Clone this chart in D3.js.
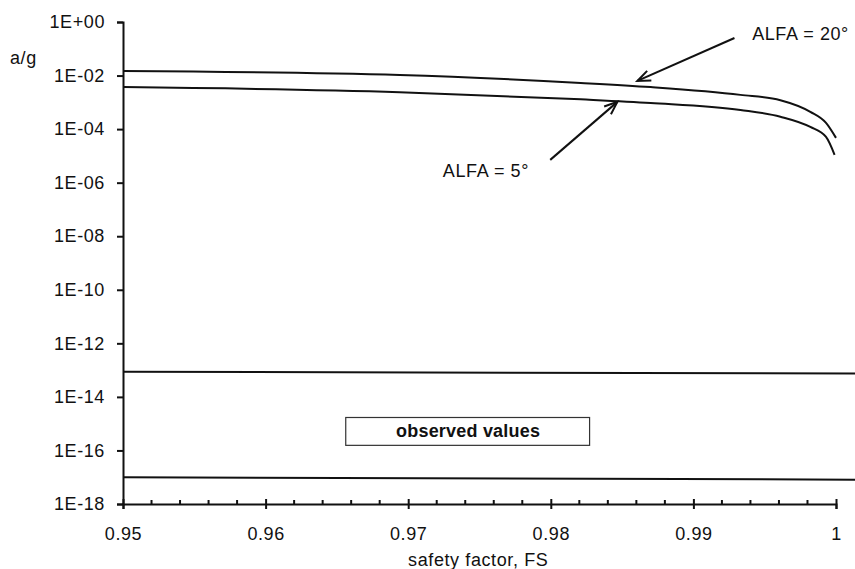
<!DOCTYPE html>
<html>
<head>
<meta charset="utf-8">
<script src="https://cdn.jsdelivr.net/npm/d3@7"></script>
<style>
  body { margin: 0; background: #fff; }
  svg { display: block; font-family: "Liberation Sans", Arial, sans-serif; }
</style>
</head>
<body>
<svg id="chart" width="855" height="569"></svg>
<script>
// safety factor values (x) and a/g (y)
const fsAlfa20 = [0.95, 0.9694, 0.9821, 0.987, 0.9933, 0.9961, 0.9982, 0.9993, 1.0];
const agAlfa20 = [1.48e-2, 1.05e-2, 5.3e-3, 3.7e-3, 1.9e-3, 1.2e-3, 4.4e-4, 1.7e-4, 4.7e-5];
const fsAlfa5 = [0.95, 0.9694, 0.9821, 0.987, 0.9933, 0.9961, 0.9982, 0.9993, 0.9999];
const agAlfa5 = [3.7e-3, 2.4e-3, 1.3e-3, 9.5e-4, 5.2e-4, 2.9e-4, 1.2e-4, 5.1e-5, 1.1e-5];
const fsObserved = [0.95, 1.0015];
const agObservedHigh = [8.7e-14, 7.4e-14];
const agObservedLow = [1.0e-17, 8.1e-18];
const yTicks = [1, 1e-2, 1e-4, 1e-6, 1e-8, 1e-10, 1e-12, 1e-14, 1e-16, 1e-18];
const yTickLabels = ['1E+00', '1E-02', '1E-04', '1E-06', '1E-08', '1E-10', '1E-12', '1E-14', '1E-16', '1E-18'];
const xTicks = [0.95, 0.96, 0.97, 0.98, 0.99, 1];
const xTickLabels = ['0.95', '0.96', '0.97', '0.98', '0.99', '1'];
const xMinorTicks = d3.range(0, 26).map((i) => 0.95 + i * 0.002);

const fontSize = 18;
const spacing = '0.6px';

const svg = d3.select('#chart');
const x = d3.scaleLinear().domain([0.95, 1]).range([123, 836]);
const y = d3.scaleLog().domain([1, 1e-18]).range([22, 504]);

const line = d3.line()
    .x((d) => x(d[0]))
    .y((d) => y(d[1]))
    .curve(d3.curveMonotoneX);

const series = [
    d3.zip(fsAlfa20, agAlfa20),
    d3.zip(fsAlfa5, agAlfa5),
    d3.zip(fsObserved, agObservedHigh),
    d3.zip(fsObserved, agObservedLow)
];

svg.append('g')
    .selectAll('path')
    .data(series)
    .enter()
    .append('path')
    .attr('d', line)
    .attr('fill', 'none')
    .attr('stroke', '#111')
    .attr('stroke-width', 2);

const styleText = (sel) => sel
    .attr('font-size', fontSize)
    .attr('letter-spacing', spacing)
    .attr('fill', '#111')
    .attr('font-family', '"Liberation Sans", Arial, sans-serif');

// y axis
const axisY = d3.axisLeft(y)
    .tickValues(yTicks)
    .tickFormat((d, i) => yTickLabels[i])
    .tickSize(6)
    .tickPadding(12);

const gy = svg.append('g')
    .attr('transform', `translate(${x(0.95)},0)`)
    .call(axisY);
gy.select('.domain').attr('stroke', '#111').attr('stroke-width', 2);
gy.selectAll('.tick line').attr('stroke', '#111').attr('stroke-width', 2);
gy.selectAll('.tick text').call(styleText);

// x axis
const axisX = d3.axisBottom(x)
    .tickValues(xTicks)
    .tickFormat((d, i) => xTickLabels[i])
    .tickSize(5)
    .tickPadding(18);

const gx = svg.append('g')
    .attr('transform', `translate(0,${y(1e-18)})`)
    .call(axisX);
gx.select('.domain').attr('stroke', '#111').attr('stroke-width', 2);
gx.selectAll('.tick line')
    .attr('y1', -5)
    .attr('stroke', '#111')
    .attr('stroke-width', 2);
gx.selectAll('.tick text').call(styleText);

gx.selectAll('.minor')
    .data(xMinorTicks.filter((d) => !xTicks.some((t) => Math.abs(t - d) < 1e-6)))
    .enter()
    .append('line')
    .attr('class', 'minor')
    .attr('x1', (d) => x(d))
    .attr('x2', (d) => x(d))
    .attr('y1', 0)
    .attr('y2', -4)
    .attr('stroke', '#111')
    .attr('stroke-width', 2);

// axis titles
svg.append('text')
    .attr('x', 10)
    .attr('y', 64)
    .call(styleText)
    .text('a/g');

svg.append('text')
    .attr('x', x(0.97491))
    .attr('y', 566)
    .attr('text-anchor', 'middle')
    .call(styleText)
    .text('safety factor, FS');

// observed values box
const box = svg.append('g');
box.append('rect')
    .attr('x', x(0.96562))
    .attr('y', y(1.7e-15))
    .attr('width', x(0.98272) - x(0.96562))
    .attr('height', y(1.55e-16) - y(1.7e-15))
    .attr('fill', '#fff')
    .attr('stroke', '#333')
    .attr('stroke-width', 1.2);
box.append('text')
    .attr('x', x(0.9742))
    .attr('y', y(1.7e-15) + 20)
    .attr('text-anchor', 'middle')
    .call(styleText)
    .attr('letter-spacing', '0.2px')
    .attr('font-weight', 'bold')
    .text('observed values');

// annotations with arrows
const annotations = [
    { label: 'ALFA = 20°', tx: 0.99412, ty: 0.327, from: [0.99288, 0.253], to: [0.98607, 6.3e-3] },
    { label: 'ALFA = 5°', tx: 0.97243, ty: 2.6e-6, from: [0.97996, 7.1e-6], to: [0.98467, 1.04e-3] }
];

const ann = svg.append('g')
    .selectAll('g')
    .data(annotations)
    .enter()
    .append('g');

ann.append('text')
    .attr('x', (d) => x(d.tx))
    .attr('y', (d) => y(d.ty) + 5)
    .call(styleText)
    .text((d) => d.label);

ann.append('line')
    .attr('x1', (d) => x(d.from[0]))
    .attr('y1', (d) => y(d.from[1]))
    .attr('x2', (d) => x(d.to[0]))
    .attr('y2', (d) => y(d.to[1]))
    .attr('stroke', '#111')
    .attr('stroke-width', 2);

// open chevron arrowheads
ann.append('path')
    .attr('d', (d) => {
        const x1 = x(d.from[0]), y1 = y(d.from[1]);
        const x2 = x(d.to[0]), y2 = y(d.to[1]);
        const a = Math.atan2(y1 - y2, x1 - x2);
        const len = 14, spread = 0.38;
        const p1 = [x2 + len * Math.cos(a + spread), y2 + len * Math.sin(a + spread)];
        const p2 = [x2 + len * Math.cos(a - spread), y2 + len * Math.sin(a - spread)];
        return `M${p1[0]},${p1[1]}L${x2},${y2}L${p2[0]},${p2[1]}`;
    })
    .attr('fill', 'none')
    .attr('stroke', '#111')
    .attr('stroke-width', 2);
</script>
</body>
</html>
